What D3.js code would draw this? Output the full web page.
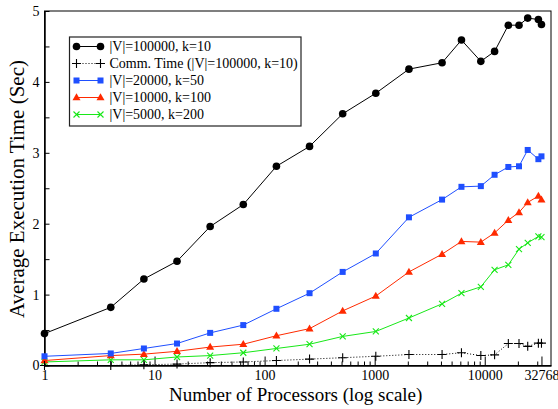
<!DOCTYPE html>
<html>
<head>
<meta charset="utf-8">
<script src="https://cdn.jsdelivr.net/npm/d3@7"></script>
<style>
  body { margin: 0; background: #fff; }
  svg { display: block; }
  text { font-family: "Liberation Serif", "Times New Roman", serif; fill: #000; }
</style>
</head>
<body>
<svg width="558" height="409"></svg>
<script>
// processor counts (x) and average times in seconds (y)
const procs = [1, 4, 8, 16, 32, 64, 128, 256, 512, 1024, 2048, 4096, 6144, 9216, 12288, 16384, 20480, 24576, 30720, 32768];
const time100k = [0.45, 0.82, 1.22, 1.47, 1.96, 2.27, 2.81, 3.09, 3.55, 3.84, 4.18, 4.27, 4.59, 4.29, 4.43, 4.80, 4.80, 4.90, 4.88, 4.81];
const timeComm = [0.0, 0.0, 0.01, 0.02, 0.04, 0.05, 0.07, 0.09, 0.11, 0.13, 0.155, 0.155, 0.18, 0.14, 0.15, 0.31, 0.31, 0.27, 0.315, 0.315];
const time20k = [0.13, 0.17, 0.24, 0.31, 0.46, 0.57, 0.80, 1.02, 1.32, 1.58, 2.09, 2.34, 2.52, 2.53, 2.69, 2.80, 2.81, 3.04, 2.91, 2.95];
const time10k = [0.07, 0.14, 0.16, 0.20, 0.26, 0.30, 0.42, 0.52, 0.77, 0.98, 1.32, 1.57, 1.75, 1.74, 1.87, 2.05, 2.16, 2.30, 2.39, 2.34];
const time5k = [0.05, 0.08, 0.08, 0.12, 0.14, 0.18, 0.24, 0.30, 0.41, 0.48, 0.67, 0.87, 1.02, 1.11, 1.35, 1.42, 1.64, 1.73, 1.82, 1.81];

const xTickLabels = [1, 10, 100, 1000, 10000, 32768];
const yTickLabels = [0, 1, 2, 3, 4, 5];

const series = [
  {name: "|V|=100000, k=10", values: time100k, color: "#000", marker: "circle", dash: null},
  {name: "Comm. Time (|V|=100000, k=10)", values: timeComm, color: "#000", marker: "plus", dash: "1,2"},
  {name: "|V|=20000, k=50", values: time20k, color: "#1f4fff", marker: "square", dash: null},
  {name: "|V|=10000, k=100", values: time10k, color: "#ff2a00", marker: "triangle", dash: null},
  {name: "|V|=5000, k=200", values: time5k, color: "#18e818", marker: "cross", dash: null}
];

const svg = d3.select("svg");
const margin = {top: 11, right: 7, bottom: 43.5, left: 44.5};
const width = 558 - margin.left - margin.right,
    height = 409 - margin.top - margin.bottom;

const x = d3.scaleLog().domain([1, 40000]).range([0, width]);
const y = d3.scaleLinear().domain([0, 5]).range([height, 0]);

const g = svg.append("g").attr("transform", `translate(${margin.left},${margin.top})`);

// frame
g.append("rect")
    .attr("width", width).attr("height", height)
    .attr("fill", "none").attr("stroke", "#000").attr("stroke-width", 1);

// minor x ticks
const minorX = [];
for (let d = 1; d <= 10000; d *= 10) {
  for (let m = 2; m <= 9; m++) if (d * m < 40000) minorX.push(d * m);
}
g.append("g")
    .attr("transform", `translate(0,${height})`)
    .call(d3.axisBottom(x).tickValues(minorX).tickSizeInner(-4).tickSizeOuter(0).tickFormat(""))
    .call(a => a.select(".domain").remove());

// major x ticks
g.append("g")
    .attr("class", "axis axis--x")
    .attr("transform", `translate(0,${height})`)
    .call(d3.axisBottom(x).tickValues(xTickLabels).tickSizeInner(-9).tickSizeOuter(0)
        .tickPadding(5).tickFormat(d3.format("d")))
    .call(a => a.select(".domain").attr("stroke-width", 1.5))
    .call(a => a.selectAll("text").style("font-size", "14px").style("font-family", "'Liberation Serif', serif"));

// y ticks (every 0.5, labels on integers)
g.append("g")
    .attr("class", "axis axis--y")
    .call(d3.axisLeft(y).tickValues(d3.range(0, 5.01, 0.5)).tickSizeInner(-5).tickSizeOuter(0)
        .tickPadding(5).tickFormat(d => yTickLabels.includes(d) ? d : ""))
    .call(a => a.select(".domain").attr("stroke-width", 1.5))
    .call(a => a.selectAll("text").style("font-size", "14px").style("font-family", "'Liberation Serif', serif"));

// axis titles
svg.append("text")
    .attr("x", margin.left + width / 2 - 2)
    .attr("y", 401)
    .attr("text-anchor", "middle")
    .style("font-size", "19px")
    .text("Number of Processors (log scale)");

svg.append("text")
    .attr("transform", "translate(24,189) rotate(-90)")
    .attr("text-anchor", "middle")
    .style("font-size", "21px")
    .text("Average Execution Time (Sec)");

function drawMarker(sel, s) {
  const c = s.color;
  if (s.marker === "circle") {
    sel.append("circle").attr("r", 3.8).attr("fill", c);
  } else if (s.marker === "square") {
    sel.append("rect").attr("x", -3).attr("y", -3).attr("width", 6).attr("height", 6).attr("fill", c);
  } else if (s.marker === "triangle") {
    sel.append("path").attr("d", "M0,-4.2L4,2.8L-4,2.8Z").attr("fill", c);
  } else if (s.marker === "cross") {
    sel.append("path").attr("d", "M-3,-3L3,3M-3,3L3,-3").attr("stroke", c).attr("stroke-width", 1.1);
  } else if (s.marker === "plus") {
    sel.append("path").attr("d", "M-4.5,0H4.5M0,-4.5V4.5").attr("stroke", c).attr("stroke-width", 1.1);
  }
}

const line = d3.line().x(d => x(d[0])).y(d => y(d[1]));

// draw in reverse so black lines sit on top
series.slice().reverse().forEach(s => {
  const pts = procs.map((p, i) => [p, s.values[i]]);
  g.append("path")
      .datum(pts)
      .attr("fill", "none")
      .attr("stroke", s.color)
      .attr("stroke-width", 1)
      .attr("stroke-dasharray", s.dash)
      .attr("d", line);
  g.selectAll(null)
      .data(pts)
      .enter().append("g")
      .attr("transform", d => `translate(${x(d[0])},${y(d[1])})`)
      .each(function() { drawMarker(d3.select(this), s); });
});

// legend
const legend = svg.append("g").attr("transform", "translate(69.5,37)");
legend.append("rect")
    .attr("width", 231.5).attr("height", 89)
    .attr("fill", "#fff").attr("stroke", "#222").attr("stroke-width", 1.2);

series.forEach((s, i) => {
  const row = legend.append("g").attr("transform", `translate(0,${9.5 + i * 17})`);
  row.append("line")
      .attr("x1", 7).attr("x2", 31)
      .attr("stroke", s.color).attr("stroke-width", 1)
      .attr("stroke-dasharray", s.dash);
  [7, 31].forEach(px => {
    const m = row.append("g").attr("transform", `translate(${px},0)`);
    drawMarker(m, s);
  });
  row.append("text")
      .attr("x", 40).attr("dy", "0.35em")
      .style("font-size", "14px")
      .text(s.name);
});
</script>
</body>
</html>
